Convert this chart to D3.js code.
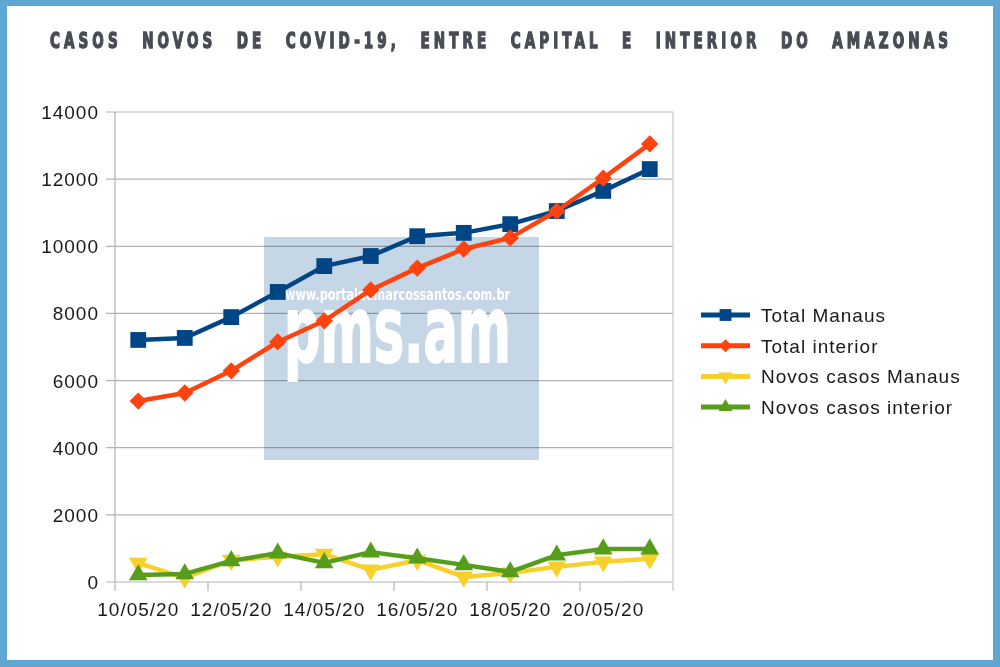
<!DOCTYPE html>
<html>
<head>
<meta charset="utf-8">
<script src="https://cdn.jsdelivr.net/npm/d3@7"></script>
<style>
  body { margin: 0; background: #fff; }
  svg { display: block; }
</style>
</head>
<body>
<svg width="1000" height="667"></svg>
<script>
// dados
var datas = ["10/05/20", "11/05/20", "12/05/20", "13/05/20", "14/05/20", "15/05/20",
  "16/05/20", "17/05/20", "18/05/20", "19/05/20", "20/05/20", "21/05/20"];
var totalManaus = [7210, 7270, 7890, 8640, 9410, 9710, 10300, 10400, 10660, 11050, 11650, 12300];
var totalInterior = [5390, 5630, 6290, 7150, 7780, 8700, 9350, 9920, 10250, 11050, 12030, 13050];
var novosManaus = [560, 120, 650, 750, 830, 360, 650, 150, 270, 450, 600, 690];
var novosInterior = [210, 240, 630, 860, 570, 890, 710, 510, 300, 800, 980, 980];
var yTicks = [0, 2000, 4000, 6000, 8000, 10000, 12000, 14000];
var xLabels = ["10/05/20", "12/05/20", "14/05/20", "16/05/20", "18/05/20", "20/05/20"];
var nomes = ["Total Manaus", "Total interior", "Novos casos Manaus", "Novos casos interior"];

var series = [
  { name: nomes[0], values: totalManaus, color: "#004586", marker: "square" },
  { name: nomes[1], values: totalInterior, color: "#ff420e", marker: "diamond" },
  { name: nomes[2], values: novosManaus, color: "#f7d02c", marker: "down" },
  { name: nomes[3], values: novosInterior, color: "#579d1c", marker: "up" }
];

var svg = d3.select("svg");

// moldura azul
svg.append("rect").attr("width", 1000).attr("height", 667).attr("fill", "#5fa7d2");
svg.append("rect").attr("x", 7).attr("y", 6).attr("width", 986).attr("height", 654).attr("fill", "#fff");

// titulo
svg.append("text")
  .attr("x", 50).attr("y", 48)
  .attr("font-family", "DejaVu Sans Condensed, DejaVu Sans")
  .attr("font-weight", "bold")
  .attr("font-size", 22)
  .attr("letter-spacing", 6)
  .attr("word-spacing", 17)
  .attr("textLength", 902)
  .attr("lengthAdjust", "spacingAndGlyphs")
  .attr("fill", "#474c55")
  .attr("stroke", "#474c55")
  .attr("stroke-width", 1.4)
  .text("CASOS NOVOS DE COVID-19, ENTRE CAPITAL E INTERIOR DO AMAZONAS");

var plotLeft = 115, plotRight = 673, plotTop = 112, plotBottom = 582;

var x = d3.scaleBand().domain(datas).range([plotLeft, plotRight]).padding(0);
var y = d3.scaleLinear().domain([0, 14000]).range([plotBottom, plotTop]);
var cx = function (d) { return x(d) + x.bandwidth() / 2; };

// grade
var grid = svg.append("g");
grid.selectAll("line.h")
  .data(yTicks)
  .enter().append("line")
  .attr("class", "h")
  .attr("x1", plotLeft - 9).attr("x2", plotRight)
  .attr("y1", function (d) { return y(d); })
  .attr("y2", function (d) { return y(d); })
  .attr("stroke", "#b3b3b3").attr("stroke-width", 1.2);
grid.append("line")
  .attr("x1", plotLeft).attr("x2", plotLeft).attr("y1", plotTop).attr("y2", plotBottom + 9)
  .attr("stroke", "#b3b3b3").attr("stroke-width", 1.2);
grid.append("line")
  .attr("x1", plotRight).attr("x2", plotRight).attr("y1", plotTop).attr("y2", plotBottom + 9)
  .attr("stroke", "#c8c8c8").attr("stroke-width", 1.2);
grid.selectAll("line.xt")
  .data(datas.filter(function (d, i) { return i % 2 == 0 && i > 0; }))
  .enter().append("line")
  .attr("class", "xt")
  .attr("x1", function (d) { return x(d); })
  .attr("x2", function (d) { return x(d); })
  .attr("y1", plotBottom).attr("y2", plotBottom + 9)
  .attr("stroke", "#b3b3b3").attr("stroke-width", 1.2);

// rotulos dos eixos
svg.append("g").selectAll("text")
  .data(yTicks)
  .enter().append("text")
  .attr("x", 99)
  .attr("y", function (d) { return y(d) + 7; })
  .attr("text-anchor", "end")
  .attr("font-family", "Liberation Sans, Arial")
  .attr("font-size", 19)
  .attr("letter-spacing", 1)
  .attr("fill", "#1a1a1a")
  .text(function (d) { return d; });

svg.append("g").selectAll("text")
  .data(xLabels)
  .enter().append("text")
  .attr("x", function (d) { return cx(d); })
  .attr("y", 616)
  .attr("text-anchor", "middle")
  .attr("font-family", "Liberation Sans, Arial")
  .attr("font-size", 19)
  .attr("letter-spacing", 1)
  .attr("fill", "#1a1a1a")
  .text(function (d) { return d; });

// marca d'agua
var wm = svg.append("g");
wm.append("rect")
  .attr("x", 264).attr("y", 237).attr("width", 275).attr("height", 223)
  .attr("fill", "#c5d6e6")
  .style("mix-blend-mode", "multiply");
wm.append("text")
  .attr("x", 285).attr("y", 300)
  .attr("font-family", "DejaVu Sans Condensed, DejaVu Sans")
  .attr("font-weight", "bold")
  .attr("font-size", 16)
  .attr("textLength", 225)
  .attr("lengthAdjust", "spacingAndGlyphs")
  .attr("fill", "#fff")
  .text("www.portaldomarcossantos.com.br");
wm.append("text")
  .attr("x", 284).attr("y", 362)
  .attr("font-family", "DejaVu Sans Condensed, DejaVu Sans")
  .attr("font-weight", "bold")
  .attr("font-size", 92)
  .attr("textLength", 227)
  .attr("lengthAdjust", "spacingAndGlyphs")
  .attr("fill", "#fff")
  .attr("stroke", "#fff")
  .attr("stroke-width", 2)
  .text("pms.am");

function markerPath(type, size) {
  if (type == "square") return d3.symbol().type(d3.symbolSquare).size(size)();
  if (type == "diamond") return d3.symbol().type(d3.symbolSquare).size(size * 0.6)();
  return d3.symbol().type(d3.symbolTriangle).size(size * 0.6)();
}
function markerRotate(type) {
  if (type == "diamond") return 45;
  if (type == "down") return 180;
  return 0;
}

var line = d3.line()
  .x(function (d) { return cx(d.date); })
  .y(function (d) { return y(d.value); });

series.forEach(function (s) {
  var pts = s.values.map(function (v, i) { return { date: datas[i], value: v }; });
  var g = svg.append("g");
  g.append("path")
    .datum(pts)
    .attr("d", line)
    .attr("fill", "none")
    .attr("stroke", s.color)
    .attr("stroke-width", 4.5)
    .attr("stroke-linejoin", "round");
  g.selectAll("path.m")
    .data(pts)
    .enter().append("path")
    .attr("class", "m")
    .attr("d", markerPath(s.marker, 250))
    .attr("transform", function (d) {
      return "translate(" + cx(d.date) + "," + y(d.value) + ") rotate(" + markerRotate(s.marker) + ")";
    })
    .attr("fill", s.color);
});

// legenda
var legend = svg.append("g");
series.forEach(function (s, i) {
  var ly = 315 + i * 30.7;
  legend.append("line")
    .attr("x1", 701).attr("x2", 750).attr("y1", ly).attr("y2", ly)
    .attr("stroke", s.color).attr("stroke-width", 5);
  legend.append("path")
    .attr("d", markerPath(s.marker, 140))
    .attr("transform", "translate(725.5," + ly + ") rotate(" + markerRotate(s.marker) + ")")
    .attr("fill", s.color);
  legend.append("text")
    .attr("x", 761).attr("y", ly + 7)
    .attr("font-family", "Liberation Sans, Arial")
    .attr("font-size", 19)
    .attr("letter-spacing", 1)
    .attr("fill", "#1a1a1a")
    .text(s.name);
});
</script>
</body>
</html>
